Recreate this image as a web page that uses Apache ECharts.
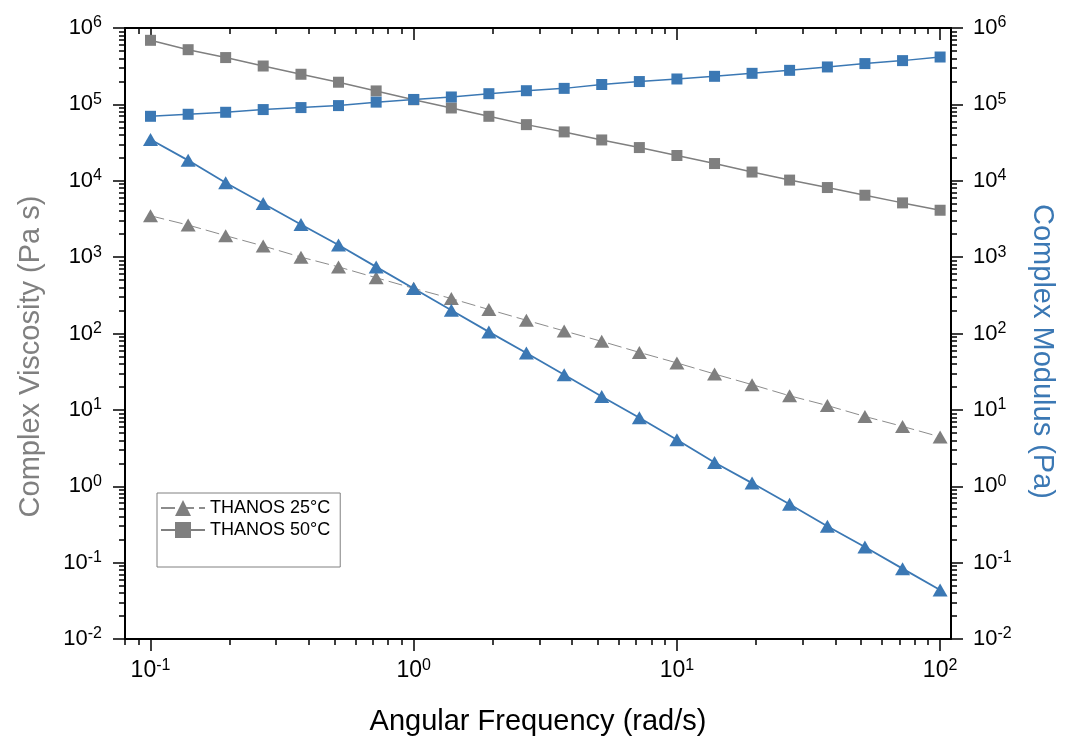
<!DOCTYPE html>
<html>
<head>
<meta charset="utf-8">
<title>THANOS rheology</title>
<script src="https://cdn.jsdelivr.net/npm/echarts@6.0.0/dist/echarts.min.js"></script>
<style>
  html, body { margin: 0; padding: 0; background: #fff; }
  #chart { width: 1066px; height: 743px; }
</style>
</head>
<body>
<div id="chart"></div>
<script>
// angular frequency (rad/s), 7 points per decade
const freq = [0.1, 0.139, 0.193, 0.268, 0.373, 0.518, 0.72, 1, 1.39, 1.93, 2.68, 3.73, 5.18, 7.2, 10, 13.9, 19.3, 26.8, 37.3, 51.8, 72, 100];

// complex viscosity (Pa s) - left axis, gray
const visc25 = [3480, 2630, 1910, 1400, 1000, 745, 537, 390, 287, 206, 149, 108, 78.9, 56.6, 41.2, 29.5, 21.4, 15.3, 11.4, 8.2, 6.08, 4.43];
const visc50 = [6.9e5, 5.2e5, 4.1e5, 3.18e5, 2.48e5, 1.95e5, 1.5e5, 1.15e5, 8.97e4, 6.98e4, 5.43e4, 4.36e4, 3.42e4, 2.72e4, 2.14e4, 1.68e4, 1.3e4, 1.02e4, 8150, 6460, 5130, 4110];

// complex modulus (Pa) - right axis, blue
const mod25 = [3.47e4, 1.85e4, 9400, 5030, 2670, 1440, 745, 388, 202, 105, 55.7, 28.9, 15.0, 7.9, 4.07, 2.05, 1.1, 0.58, 0.30, 0.16, 0.0834, 0.0437];
const mod50 = [6.98e4, 7.42e4, 7.88e4, 8.55e4, 9.08e4, 9.64e4, 1.07e5, 1.16e5, 1.25e5, 1.38e5, 1.51e5, 1.62e5, 1.82e5, 1.99e5, 2.15e5, 2.33e5, 2.55e5, 2.79e5, 3.09e5, 3.42e5, 3.74e5, 4.17e5];

// axis ticks
const xMajor = [0.1, 1, 10, 100];
const xMinor = [0.08, 0.09, 0.2, 0.3, 0.4, 0.5, 0.6, 0.7, 0.8, 0.9, 2, 3, 4, 5, 6, 7, 8, 9, 20, 30, 40, 50, 60, 70, 80, 90];
const yMajor = [1e-2, 1e-1, 1, 10, 100, 1e3, 1e4, 1e5, 1e6];
const yMinor = [];
yMajor.slice(0, -1).forEach(d => {
  for (let m = 2; m <= 9; m++) yMinor.push(+(d * m).toPrecision(3));
});

const GRAY = '#7f7f7f';
const BLUE = '#3b78b4';
const FONT = 'Liberation Sans';

function richFor(size) {
  return {
    b: { fontSize: size, fontFamily: FONT, color: '#000', lineHeight: 26 },
    s: { fontSize: 16, fontFamily: FONT, color: '#000', verticalAlign: 'top', lineHeight: 14 }
  };
}
function powLabel(v) {
  const e = Math.round(Math.log10(v));
  return '{b|10}{s|' + e + '}';
}

const axLine = { show: true, onZero: false, lineStyle: { color: '#000', width: 2 } };
const noLine = { show: false };

// major / minor tick axes are stacked on the same side
function xAx(pos, ticks, len, inside, extra) {
  return Object.assign({
    type: 'log', logBase: 10, min: 0.08, max: 110, position: pos,
    axisLine: noLine,
    axisTick: { show: true, inside: inside, length: len, customValues: ticks, lineStyle: { color: '#000', width: 1.5 } },
    axisLabel: { show: false },
    splitLine: { show: false }
  }, extra || {});
}
function yAx(pos, ticks, len, extra) {
  return Object.assign({
    type: 'log', logBase: 10, min: 0.01, max: 1e6, position: pos,
    axisLine: noLine,
    axisTick: { show: true, inside: false, length: len, customValues: ticks, lineStyle: { color: '#000', width: 1.5 } },
    axisLabel: { show: false },
    splitLine: { show: false }
  }, extra || {});
}

const option = {
  backgroundColor: '#fff',
  animation: false,
  grid: { left: 125, right: 115, top: 28, bottom: 104 },
  legend: {
    left: 157, top: 493,
    orient: 'vertical',
    data: ['THANOS 25°C', 'THANOS 50°C'],
    itemWidth: 44, itemHeight: 20, itemGap: 4,
    padding: [6, 10, 28, 3],
    borderColor: '#808080', borderWidth: 1,
    textStyle: { fontFamily: FONT, fontSize: 18, color: '#000' }
  },
  xAxis: [
    xAx('bottom', xMajor, 12, false, {
      axisLine: axLine,
      axisLabel: { show: true, customValues: xMajor, formatter: powLabel, rich: richFor(23), margin: 19 },
      name: 'Angular Frequency (rad/s)', nameLocation: 'middle', nameGap: 68,
      nameTextStyle: { fontFamily: FONT, fontSize: 29, color: '#000' }
    }),
    xAx('bottom', xMinor, 6, false),
    xAx('top', xMajor, 12, true, { axisLine: axLine }),
    xAx('top', xMinor, 6, true)
  ],
  yAxis: [
    yAx('left', yMajor, 12, {
      axisLine: axLine,
      axisLabel: { show: true, customValues: yMajor, formatter: powLabel, rich: richFor(22), margin: 23 },
      name: 'Complex Viscosity (Pa s)', nameLocation: 'middle', nameGap: 80,
      nameTextStyle: { fontFamily: FONT, fontSize: 29, color: '#808080', padding: [0, 46, 0, 0] }
    }),
    yAx('left', yMinor, 6),
    yAx('right', yMajor, 12, {
      axisLine: axLine,
      axisLabel: { show: true, customValues: yMajor, formatter: powLabel, rich: richFor(22), margin: 22 },
      name: 'Complex Modulus (Pa)', nameLocation: 'middle', nameGap: 76, nameRotate: -90,
      nameTextStyle: { fontFamily: FONT, fontSize: 29, color: BLUE, padding: [0, 0, 0, 36] }
    }),
    yAx('right', yMinor, 6)
  ],
  series: [
    {
      name: 'THANOS 25°C', type: 'line', xAxisIndex: 0, yAxisIndex: 0,
      data: freq.map((f, i) => [f, visc25[i]]),
      symbol: 'triangle', symbolSize: [15, 13],
      itemStyle: { color: GRAY },
      lineStyle: { color: '#8c8c8c', width: 1, type: [14, 5] }
    },
    {
      name: 'THANOS 50°C', type: 'line', xAxisIndex: 0, yAxisIndex: 0,
      data: freq.map((f, i) => [f, visc50[i]]),
      symbol: 'rect', symbolSize: 11,
      itemStyle: { color: GRAY },
      lineStyle: { color: GRAY, width: 1.5 }
    },
    {
      name: 'THANOS 25°C modulus', type: 'line', xAxisIndex: 0, yAxisIndex: 2,
      data: freq.map((f, i) => [f, mod25[i]]),
      symbol: 'triangle', symbolSize: [15, 13],
      itemStyle: { color: BLUE },
      lineStyle: { color: BLUE, width: 1.8 }
    },
    {
      name: 'THANOS 50°C modulus', type: 'line', xAxisIndex: 0, yAxisIndex: 2,
      data: freq.map((f, i) => [f, mod50[i]]),
      symbol: 'rect', symbolSize: 11,
      itemStyle: { color: BLUE },
      lineStyle: { color: BLUE, width: 1.5 }
    }
  ]
};

const chart = echarts.init(document.getElementById('chart'));
chart.setOption(option);
</script>
</body>
</html>
